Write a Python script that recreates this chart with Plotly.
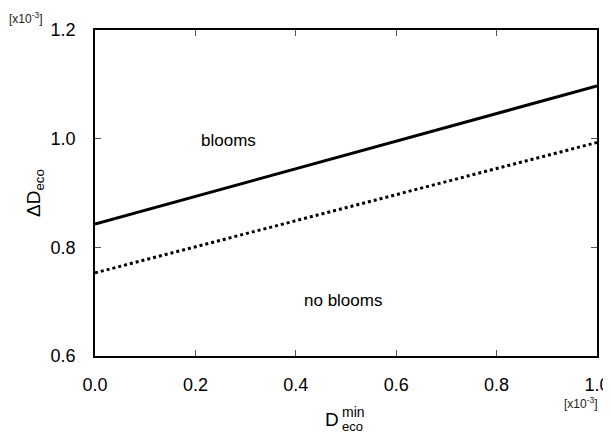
import plotly.graph_objects as go

x_vals = [0.0, 1.0]
blooms_line = [0.843, 1.097]
noblooms_line = [0.753, 0.993]
x_ticks = [0.0, 0.2, 0.4, 0.6, 0.8, 1.0]
y_ticks = [0.6, 0.8, 1.0, 1.2]

FONT = "Liberation Sans, Arial, Helvetica, sans-serif"

fig = go.Figure()
fig.add_trace(go.Scatter(x=x_vals, y=blooms_line, mode="lines",
                         line=dict(color="black", width=3), showlegend=False))
fig.add_trace(go.Scatter(x=x_vals, y=noblooms_line, mode="lines",
                         line=dict(color="black", width=3, dash="dot"), showlegend=False))

axis_common = dict(showgrid=False, zeroline=False, showline=True, linecolor="black",
                   linewidth=1.5, mirror="ticks", ticks="inside", ticklen=6,
                   tickcolor="#555555", tickwidth=1, automargin=False,
                   tickfont=dict(family=FONT, size=18, color="black"))
fig.update_xaxes(range=[0, 1.0], tickvals=x_ticks, ticklabelstandoff=12,
                 ticktext=[f"{v:.1f}" for v in x_ticks], **axis_common)
fig.update_yaxes(range=[0.6, 1.2], tickvals=y_ticks, ticklabelstandoff=14,
                 ticktext=[f"{v:.1f}" for v in y_ticks], **axis_common)

ann = []
ann.append(dict(x=0.265, y=0.996, xref="x", yref="y", text="blooms", showarrow=False,
                font=dict(family=FONT, size=17, color="black")))
ann.append(dict(x=0.495, y=0.702, xref="x", yref="y", text="no blooms", showarrow=False,
                font=dict(family=FONT, size=17, color="black")))
# exponent markers
ann.append(dict(x=0, y=1.0, xref="paper", yref="paper", xanchor="left", yanchor="bottom",
                text="[x10<sup>-3</sup>]", showarrow=False, yshift=2, xshift=-88,
                font=dict(family=FONT, size=12, color="#222222")))
ann.append(dict(x=1.0, y=0.0, xref="paper", yref="paper", xanchor="right", yanchor="top",
                text="[x10<sup>-3</sup>]", showarrow=False, yshift=-37, xshift=2,
                font=dict(family=FONT, size=12, color="#222222")))
# y title
ann.append(dict(x=0, y=0.5, xref="paper", yref="paper", text="ΔD<sub>eco</sub>",
                textangle=-90, showarrow=False, xanchor="center", yanchor="middle", xshift=-60,
                font=dict(family=FONT, size=19, color="black")))
# x title: D with stacked super/subscript
ann.append(dict(x=0.5, y=0.0, xref="paper", yref="paper", text="D", showarrow=False,
                xanchor="right", yanchor="top", yshift=-51, xshift=-5,
                font=dict(family=FONT, size=19, color="black")))
ann.append(dict(x=0.5, y=0.0, xref="paper", yref="paper", text="min", showarrow=False,
                xanchor="left", yanchor="top", yshift=-46, xshift=-6,
                font=dict(family=FONT, size=14, color="black")))
ann.append(dict(x=0.5, y=0.0, xref="paper", yref="paper", text="eco", showarrow=False,
                xanchor="left", yanchor="top", yshift=-61, xshift=-6,
                font=dict(family=FONT, size=13, color="black")))

fig.update_layout(width=603, height=426, plot_bgcolor="white", paper_bgcolor="white",
                  margin=dict(l=87, r=14, t=22, b=78), annotations=ann)

fig.write_html("out.html")
